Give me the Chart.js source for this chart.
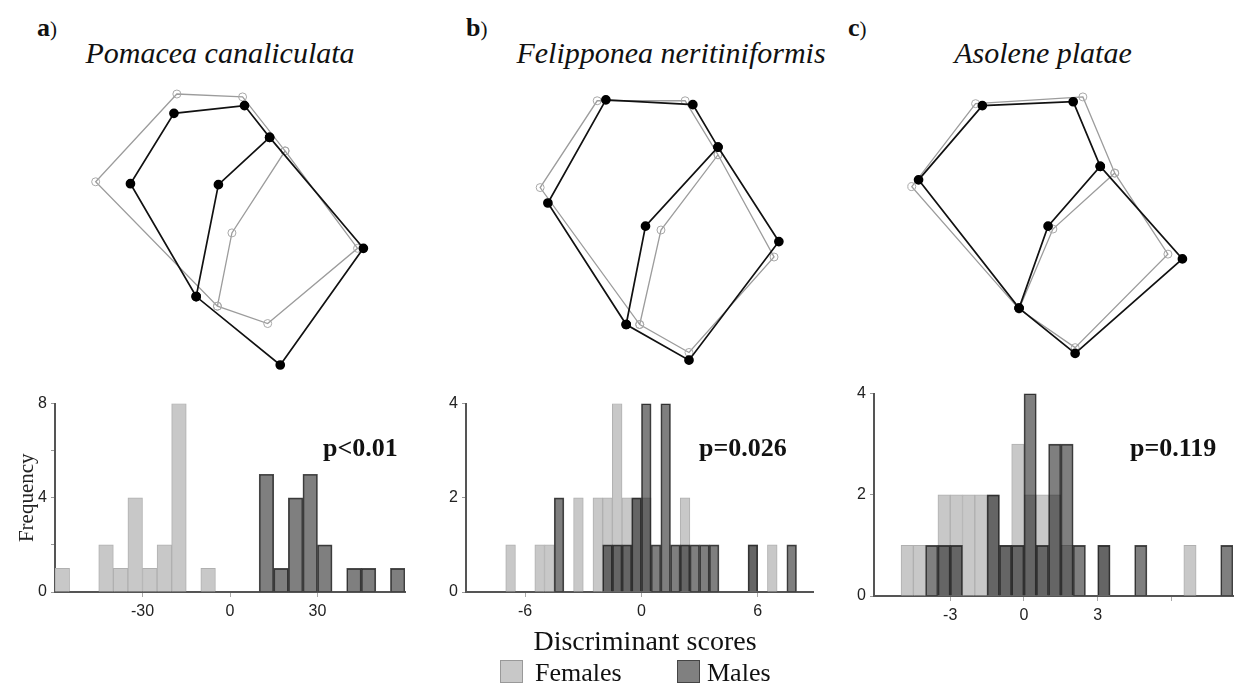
<!DOCTYPE html>
<html lang="en">
<head>
  <meta charset="UTF-8" />
  <title>Shell shape and discriminant scores</title>
  <script src="https://cdn.jsdelivr.net/npm/chart.js"></script>
  <style>
    * { box-sizing: border-box; }
    body { margin: 0; background: #fff; }
    #page { position: relative; width: 1236px; height: 685px; overflow: hidden; background: #fff; color: #111; }
    #page canvas { position: absolute; }
    .txt { position: absolute; white-space: nowrap; font-family: 'Liberation Serif', 'DejaVu Serif', serif; line-height: 1; }
    .letter { font-size: 26px; font-weight: bold; }
    .letter span { font-weight: normal; font-size: 21px; }
    .species { font-size: 30px; font-style: italic; transform: translateX(-50%); }
    .pval { font-size: 26px; font-weight: bold; }
    .center { transform: translateX(-50%); }
    .key { position: absolute; width: 23px; height: 23px; border: 1px solid #999; }
  </style>
</head>
<body>
<div id="page">
  <div class="txt letter" style="left:37px; top:15px;">a<span>)</span></div>
  <div class="txt letter" style="left:466px; top:15px;">b<span>)</span></div>
  <div class="txt letter" style="left:848px; top:15px;">c<span>)</span></div>

  <div class="txt species" style="left:220px; top:38px;">Pomacea canaliculata</div>
  <div class="txt species" style="left:671px; top:38px;">Felipponea neritiniformis</div>
  <div class="txt species" style="left:1043px; top:38px;">Asolene platae</div>

  <canvas id="shapeA" width="340" height="320" style="left:60px; top:70px;"></canvas>
  <canvas id="shapeB" width="340" height="320" style="left:490px; top:70px;"></canvas>
  <canvas id="shapeC" width="340" height="320" style="left:880px; top:70px;"></canvas>

  <canvas id="histA" width="410" height="240" style="left:0px; top:390px;"></canvas>
  <canvas id="histB" width="400" height="240" style="left:420px; top:390px;"></canvas>
  <canvas id="histC" width="406" height="250" style="left:830px; top:380px;"></canvas>

  <div class="txt pval" style="left:323px; top:435px;">p&lt;0.01</div>
  <div class="txt pval" style="left:699px; top:435px;">p=0.026</div>
  <div class="txt pval" style="left:1130px; top:435px;">p=0.119</div>

  <div class="txt center" style="left:645px; top:627px; font-size:28px;">Discriminant scores</div>
  <div class="key" style="left:500px; top:660px; background:#c8c8c8;"></div>
  <div class="txt" style="left:535px; top:660px; font-size:26px;">Females</div>
  <div class="key" style="left:677px; top:660px; background:#808080; border-color:#444;"></div>
  <div class="txt" style="left:707px; top:660px; font-size:26px;">Males</div>
</div>

<script>
  // landmark configurations (8 landmarks each), shape units
  const blackAx = [-0.12, 0.41, 0.15, -0.58, -1.03, -0.35, 0.52, 1.38];
  const blackAy = [0.47, 0.96, 1.29, 1.21, 0.48, -0.69, -1.40, -0.19];
  const grayAx  = [0.02, 0.57, 0.13, -0.55, -1.39, -0.13, 0.39, 1.32];
  const grayAy  = [-0.03, 0.82, 1.38, 1.41, 0.50, -0.79, -0.97, -0.19];

  const blackBx = [-0.15, 0.60, 0.34, -0.56, -1.16, -0.35, 0.30, 1.23];
  const blackBy = [0.04, 0.86, 1.30, 1.35, 0.28, -0.98, -1.35, -0.12];
  const grayBx  = [0.01, 0.60, 0.26, -0.65, -1.24, -0.21, 0.30, 1.18];
  const grayBy  = [0.00, 0.78, 1.34, 1.34, 0.44, -0.98, -1.27, -0.28];

  const blackCx = [-0.02, 0.52, 0.24, -0.70, -1.36, -0.32, 0.26, 1.37];
  const blackCy = [0.04, 0.66, 1.33, 1.29, 0.52, -0.81, -1.28, -0.30];
  const grayCx  = [0.03, 0.67, 0.34, -0.77, -1.43, -0.32, 0.26, 1.22];
  const grayCy  = [0.01, 0.59, 1.38, 1.31, 0.45, -0.82, -1.22, -0.25];

  // order in which landmarks are joined by the outline (1-based)
  const outlineOrder = [6, 1, 2, 3, 4, 5, 6, 7, 8, 2];

  // histogram bins (centres) and frequencies
  const centersA = [-57.5, -52.5, -47.5, -42.5, -37.5, -32.5, -27.5, -22.5, -17.5, -12.5, -7.5, -2.5,
                    2.5, 7.5, 12.5, 17.5, 22.5, 27.5, 32.5, 37.5, 42.5, 47.5, 52.5, 57.5];
  const femalesA = [1, 0, 0, 2, 1, 4, 1, 2, 8, 0, 1, 0, 0, 0, 0, 0, 0, 0, 0, 0, 0, 0, 0, 0];
  const malesA   = [0, 0, 0, 0, 0, 0, 0, 0, 0, 0, 0, 0, 0, 0, 5, 1, 4, 5, 2, 0, 1, 1, 0, 1];
  const ticksA = [-30, 0, 30];

  const centersB = [-6.75, -6.25, -5.75, -5.25, -4.75, -4.25, -3.75, -3.25, -2.75, -2.25, -1.75, -1.25, -0.75, -0.25,
                    0.25, 0.75, 1.25, 1.75, 2.25, 2.75, 3.25, 3.75, 4.25, 4.75, 5.25, 5.75, 6.25, 6.75, 7.25, 7.75];
  const femalesB = [1, 0, 0, 1, 1, 0, 0, 2, 0, 2, 2, 4, 2, 2, 2, 0, 0, 0, 2, 0, 0, 0, 0, 0, 0, 1, 0, 1, 0, 0];
  const malesB   = [0, 0, 0, 0, 0, 2, 0, 0, 0, 0, 1, 1, 1, 2, 4, 1, 4, 1, 1, 1, 1, 1, 0, 0, 0, 1, 0, 0, 0, 1];
  const ticksB = [-6, 0, 6];

  const centersC = [-4.75, -4.25, -3.75, -3.25, -2.75, -2.25, -1.75, -1.25, -0.75, -0.25,
                    0.25, 0.75, 1.25, 1.75, 2.25, 2.75, 3.25, 3.75, 4.25, 4.75, 5.25, 5.75, 6.25, 6.75, 7.25, 7.75, 8.25];
  const femalesC = [1, 1, 0, 2, 2, 2, 2, 2, 1, 3, 2, 2, 2, 1, 0, 0, 1, 0, 0, 0, 0, 0, 0, 1, 0, 0, 0];
  const malesC   = [0, 0, 1, 1, 1, 0, 0, 2, 1, 1, 4, 1, 3, 3, 1, 0, 1, 0, 0, 1, 0, 0, 0, 0, 0, 0, 1];
  const ticksC = [-3, 0, 3, 6];

  const FEMALE_FILL = '#c8c8c8';
  const FEMALE_EDGE = '#b0b0b0';
  const MALE_FILL = 'rgba(14, 14, 14, 0.53)';
  const MALE_EDGE = 'rgba(30, 30, 30, 0.8)';
  const tickFont = { family: 'Liberation Sans', size: 16 };

  function outline(xs, ys) {
    return outlineOrder.map(i => ({ x: xs[i - 1], y: ys[i - 1] }));
  }

  function shapeChart(id, bx, by, gx, gy) {
    new Chart(document.getElementById(id), {
      type: 'scatter',
      data: {
        datasets: [
          {
            data: outline(bx, by), showLine: true, order: 0, clip: false,
            borderColor: '#111', borderWidth: 1.7,
            pointRadius: 4, pointBackgroundColor: '#000', pointBorderColor: '#000'
          },
          {
            data: outline(gx, gy), showLine: true, order: 1, clip: false,
            borderColor: '#9c9c9c', borderWidth: 1.3,
            pointRadius: 4, pointBorderWidth: 1,
            pointBackgroundColor: 'rgba(255,255,255,0)', pointBorderColor: '#a8a8a8'
          }
        ]
      },
      options: {
        responsive: false,
        animation: false,
        layout: { padding: 0 },
        plugins: { legend: { display: false }, tooltip: { enabled: false } },
        scales: {
          x: { type: 'linear', min: -1.7, max: 1.7, display: false },
          y: { type: 'linear', min: -1.6, max: 1.6, display: false }
        }
      }
    });
  }

  function toPoints(centers, counts) {
    return centers.map((c, i) => ({ x: c, y: counts[i] ? counts[i] : null }));
  }

  function histChart(id, centers, females, males, cfg) {
    new Chart(document.getElementById(id), {
      type: 'bar',
      data: {
        datasets: [
          {
            label: 'Males', data: toPoints(centers, males), order: 0,
            backgroundColor: MALE_FILL, borderColor: MALE_EDGE, borderWidth: 1,
            grouped: false, barPercentage: 1, categoryPercentage: 1
          },
          {
            label: 'Females', data: toPoints(centers, females), order: 1,
            backgroundColor: FEMALE_FILL, borderColor: FEMALE_EDGE, borderWidth: 1,
            grouped: false, barPercentage: 1, categoryPercentage: 1
          }
        ]
      },
      options: {
        responsive: false,
        animation: false,
        layout: { padding: { top: cfg.padTop, right: cfg.padRight, left: 0, bottom: 0 } },
        plugins: { legend: { display: false }, tooltip: { enabled: false } },
        scales: {
          x: {
            type: 'linear', min: cfg.xMin, max: cfg.xMax, offset: false,
            afterBuildTicks: s => { s.ticks = cfg.xTicks.map(v => ({ value: v })); },
            afterFit: s => { s.height = cfg.xHeight; },
            ticks: {
              font: tickFont, color: '#222', padding: 5, autoSkip: false, maxRotation: 0,
              callback: v => (cfg.xLabels.includes(v) ? String(v) : '')
            },
            grid: { offset: false, drawOnChartArea: false, tickLength: 5, tickColor: '#aaa' },
            border: { color: '#555', width: 2 }
          },
          y: {
            min: 0, max: cfg.yMax,
            afterBuildTicks: s => { s.ticks = cfg.yTicks.map(v => ({ value: v })); },
            afterFit: s => { s.width = cfg.yWidth; },
            ticks: {
              font: tickFont, color: '#222', padding: 4,
              callback: v => (cfg.yLabels.includes(v) ? String(v) : '')
            },
            grid: { drawOnChartArea: false, tickLength: 4, tickColor: '#999' },
            border: { color: '#555', width: 2 },
            title: {
              display: !!cfg.yTitle, text: cfg.yTitle || '', color: '#222',
              font: { family: 'Liberation Serif', size: 21 },
              padding: { top: 15, bottom: 0 }
            }
          }
        }
      }
    });
  }

  shapeChart('shapeA', blackAx, blackAy, grayAx, grayAy);
  shapeChart('shapeB', blackBx, blackBy, grayBx, grayBy);
  shapeChart('shapeC', blackCx, blackCy, grayCx, grayCy);

  histChart('histA', centersA, femalesA, malesA, {
    xMin: -60, xMax: 60, xTicks: ticksA, xLabels: ticksA,
    yMax: 8, yTicks: [0, 2, 4, 6, 8], yLabels: [0, 4, 8],
    padTop: 7, padRight: 5, xHeight: 38, yWidth: 55, yTitle: 'Frequency'
  });

  histChart('histB', centersB, femalesB, malesB, {
    xMin: -9.05, xMax: 8.85, xTicks: ticksB, xLabels: ticksB,
    yMax: 4, yTicks: [0, 2, 4], yLabels: [0, 2, 4],
    padTop: 7, padRight: 7, xHeight: 38, yWidth: 46
  });

  histChart('histC', centersC, femalesC, malesC, {
    xMin: -6.1, xMax: 8.5, xTicks: ticksC, xLabels: [-3, 0, 3],
    yMax: 4, yTicks: [0, 2, 4], yLabels: [0, 2, 4],
    padTop: 8, padRight: 3, xHeight: 34, yWidth: 44
  });
</script>
</body>
</html>
